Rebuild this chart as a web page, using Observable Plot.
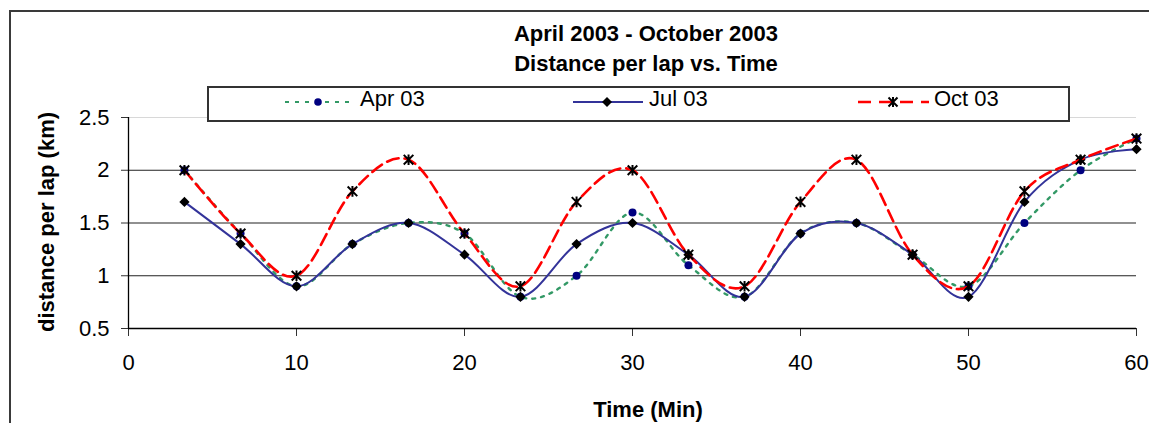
<!DOCTYPE html>
<html>
<head>
<meta charset="utf-8">
<script src="https://cdn.jsdelivr.net/npm/d3@7"></script>
<script src="https://cdn.jsdelivr.net/npm/@observablehq/plot@0.6"></script>
<style>
  html, body { margin: 0; padding: 0; background: #fff; overflow: hidden; }
  body { width: 1149px; height: 423px; position: relative; font-family: "Liberation Sans", Arial, sans-serif; color: #000; }
  #frame { position: absolute; left: 9px; top: 10px; width: 1200px; height: 500px; border: 2px solid #3a3a3a; box-sizing: border-box; }
  #chart { position: absolute; left: 0; top: 0; }
  .t { position: absolute; white-space: nowrap; line-height: 22px; font-size: 22px; }
  .b { font-weight: bold; }
  #legend { position: absolute; left: 207px; top: 86px; width: 863px; height: 36px; box-sizing: border-box; border: 2px solid #333; background: #fff; }
  .sw { position: absolute; }
</style>
</head>
<body>
<div id="frame"></div>
<div id="chart"></div>
<div class="t b" style="left:446px;width:400px;text-align:center;top:23.4px;">April 2003 - October 2003</div>
<div class="t b" style="left:446px;width:400px;text-align:center;top:52.9px;">Distance per lap vs. Time</div>
<div id="legend"></div>
<div class="t" style="left:360px;top:88.4px;">Apr 03</div>
<div class="t" style="left:649px;top:88.4px;">Jul 03</div>
<div class="t" style="left:934px;top:88.4px;">Oct 03</div>
<svg class="sw" style="left:280px;top:92px" width="80" height="20">
  <line x1="5" y1="10" x2="73" y2="10" stroke="#339966" stroke-width="2.2" stroke-dasharray="4,6"/>
  <circle cx="38" cy="10" r="3.8" fill="#000080"/>
</svg>
<svg class="sw" style="left:568px;top:92px" width="80" height="20">
  <line x1="5" y1="10" x2="75" y2="10" stroke="#333399" stroke-width="2"/>
  <path d="M39,5L44,10L39,15L34,10Z" fill="#000"/>
</svg>
<svg class="sw" style="left:853px;top:92px" width="80" height="20">
  <line x1="5" y1="10" x2="76" y2="10" stroke="#ff0000" stroke-width="2.5" stroke-dasharray="13,8"/>
  <path d="M35.5,5.5L44.5,14.5M35.5,14.5L44.5,5.5M40,5L40,15" stroke="#000" stroke-width="2" fill="none"/>
</svg>
<div class="t b" style="left:548px;width:200px;text-align:center;top:399.4px;">Time (Min)</div>
<div class="t b" style="left:47.4px;top:222px;transform:translate(-50%,-50%) rotate(-90deg);">distance per lap (km)</div>
<script>
// Data
const times = [3.33, 6.67, 10, 13.33, 16.67, 20, 23.33, 26.67, 30, 33.33, 36.67, 40, 43.33, 46.67, 50, 53.33, 56.67, 60];
const apr03 = [2.0, 1.4, 0.9, 1.3, 1.5, 1.4, 0.8, 1.0, 1.6, 1.1, 0.8, 1.4, 1.5, 1.2, 0.9, 1.5, 2.0, 2.3];
const jul03 = [1.7, 1.3, 0.9, 1.3, 1.5, 1.2, 0.8, 1.3, 1.5, 1.2, 0.8, 1.4, 1.5, 1.2, 0.8, 1.7, 2.1, 2.2];
const oct03 = [2.0, 1.4, 1.0, 1.8, 2.1, 1.4, 0.9, 1.7, 2.0, 1.2, 0.9, 1.7, 2.1, 1.2, 0.9, 1.8, 2.1, 2.3];
const xTicks = [0, 10, 20, 30, 40, 50, 60];
const yTicks = [0.5, 1, 1.5, 2, 2.5];

const rows = (vals) => times.map((t, i) => ({t, v: vals[i]}));
const aprRows = rows(apr03), julRows = rows(jul03), octRows = rows(oct03);

const star = {
  draw(ctx, size) {
    const r = Math.sqrt(size / Math.PI);
    ctx.moveTo(-r, -r); ctx.lineTo(r, r);
    ctx.moveTo(-r, r); ctx.lineTo(r, -r);
    ctx.moveTo(0, -r * 1.1); ctx.lineTo(0, r * 1.1);
  }
};

const chart = Plot.plot({
  width: 1149,
  height: 423,
  marginLeft: 128,
  marginRight: 13,
  marginTop: 117,
  marginBottom: 95,
  style: {fontFamily: "'Liberation Sans', Arial, sans-serif", fontSize: "22px", color: "#000", background: "transparent", overflow: "visible"},
  x: {domain: [0, 60]},
  y: {domain: [0.5, 2.5]},
  marks: [
    Plot.ruleY([2.5], {stroke: "#d8d8d8", strokeWidth: 1.2}),
    Plot.ruleY([1, 1.5, 2], {stroke: "#222", strokeWidth: 1.2}),
    Plot.axisY({ticks: yTicks, tickSize: 7, tickPadding: 12, tickFormat: d => String(d), label: null, stroke: "#333", strokeOpacity: 1}),
    Plot.axisX({ticks: xTicks, tickSize: 8, tickPadding: 18, tickFormat: d => String(d), label: null, stroke: "#333", strokeOpacity: 1}),
    Plot.ruleX([0], {y1: 0.5, y2: 2.5, stroke: "#000", strokeWidth: 1.3}),
    Plot.ruleY([0.5], {x1: 0, x2: 60, stroke: "#000", strokeWidth: 1.3}),
    Plot.line(aprRows, {x: "t", y: "v", curve: "cardinal", stroke: "#339966", strokeWidth: 2.4, strokeDasharray: "3,6"}),
    Plot.dot(aprRows, {x: "t", y: "v", r: 4, fill: "#000080", stroke: "none"}),
    Plot.line(julRows, {x: "t", y: "v", curve: "cardinal", stroke: "#333399", strokeWidth: 2}),
    Plot.dot(julRows, {x: "t", y: "v", symbol: "diamond2", r: 4.6, fill: "#000", stroke: "none"}),
    Plot.line(octRows, {x: "t", y: "v", curve: "cardinal", stroke: "#ff0000", strokeWidth: 2.6, strokeDasharray: "12,6"}),
    Plot.dot(octRows, {x: "t", y: "v", symbol: star, r: 4.8, fill: "none", stroke: "#000", strokeWidth: 2})
  ]
});
document.getElementById("chart").appendChild(chart);
</script>
</body>
</html>
